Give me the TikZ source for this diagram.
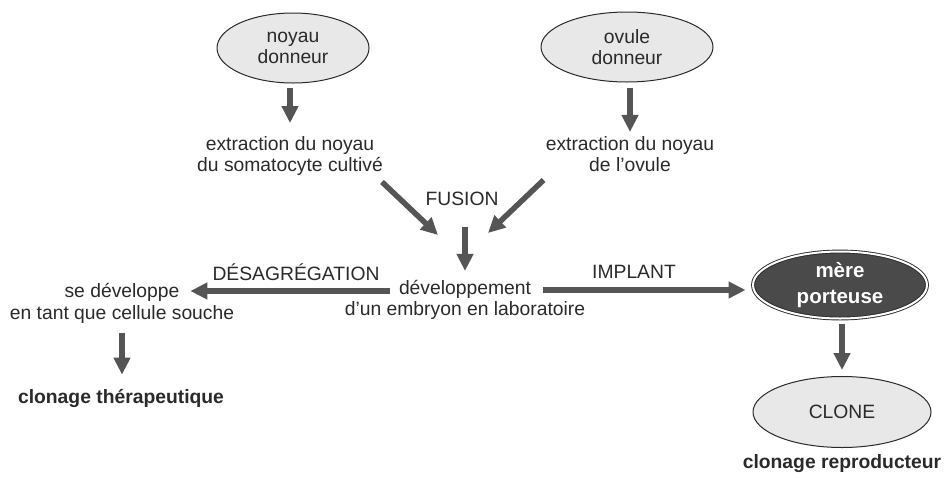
\documentclass[tikz,border=0pt]{standalone}
\usepackage{fontspec}
\setmainfont{Liberation Sans}
\usetikzlibrary{arrows.meta,shapes.geometric}
\definecolor{txt}{HTML}{2A2A2A}
\definecolor{arrc}{HTML}{555555}
\definecolor{ellfill}{HTML}{E8E8E8}
\definecolor{darkfill}{HTML}{4A4A4A}
\newcommand{\basefont}{\fontsize{19.3}{21.5}\selectfont}
\begin{document}
\begin{tikzpicture}[x=1pt,y=-1pt,
  every node/.style={text=txt, font=\basefont},
  lbl/.style={inner sep=0pt, align=center},
  boldlbl/.style={inner sep=0pt, align=center, font=\basefont\bfseries},
  oval/.style={ellipse, draw=txt, line width=1pt, fill=ellfill, inner sep=0pt, align=center},
  darkoval/.style={ellipse, draw=txt, line width=0.9pt, double=white, double distance=2pt,
     fill=darkfill, inner sep=0pt, align=center, text=white,
     font=\fontsize{20.5}{26}\selectfont\bfseries},
  arr/.style={draw=arrc, line width=5.5pt, -{Triangle[length=17pt,width=16pt]}},
]
\useasboundingbox (0,0) rectangle (944,477);

% nodes
\node[oval, minimum width=152pt, minimum height=70pt] (noyau) at (293,48) {noyau\\donneur};
\node[oval, minimum width=172pt, minimum height=70pt] (ovule) at (627,47) {ovule\\donneur};
\node[lbl] (extr1) at (290,156) {extraction du noyau\\du somatocyte cultivé};
\node[lbl] (extr2) at (630,154) {extraction du noyau\\de l’ovule};
\node[lbl, anchor=base] (fusion) at (462,205) {FUSION};
\node[lbl] (dev) at (465,300) {développement\\d’un embryon en laboratoire};
\node[lbl] (sedev) at (122,303.5) {se développe\\en tant que cellule souche};
\node[lbl, anchor=base] (desag) at (296,280) {DÉSAGRÉGATION};
\node[lbl, anchor=base] (implant) at (634,278) {IMPLANT};
\node[boldlbl, anchor=base] (ther) at (121,403) {clonage thérapeutique};
\node[darkoval, minimum width=174pt, minimum height=67pt] (mere) at (840,285) {mère\\porteuse};
\node[oval, minimum width=178pt, minimum height=71pt] (clone) at (842,412) {CLONE};
\node[boldlbl, anchor=base] (repro) at (842,468) {clonage reproducteur};

\coordinate (fusL) at (438,235);
\coordinate (fusR) at (488,233);

% connectors
\draw[arr, shorten <=4pt, shorten >=13pt] (noyau.south -| extr1.north) -- (extr1.north);
\draw[arr, shorten <=5pt, shorten >=4pt] (ovule.south -| extr2.north) -- (extr2.north);
\draw[arr] ([shift={(-1,6)}]extr1.south east) -- (fusL);
\draw[arr] ([shift={(-2,8)}]extr2.south west) -- (fusR);
\draw[arr, shorten <=22pt, shorten >=9pt] (fusion.south -| dev.north) -- (dev.north);
\draw[arr] ([shift={(45,-9)}]dev.west) -- ([shift={(-44,-12.5)}]sedev.east);
\draw[arr] ([shift={(-42,-10)}]dev.east) -- ([shift={(-7,5)}]mere.west);
\draw[arr, shorten <=9pt, shorten >=14pt] (sedev.south) -- (sedev.south |- ther.north);
\draw[arr, shorten <=5pt, shorten >=6pt] (mere.south -| clone.north) -- (clone.north);
\end{tikzpicture}
\end{document}
